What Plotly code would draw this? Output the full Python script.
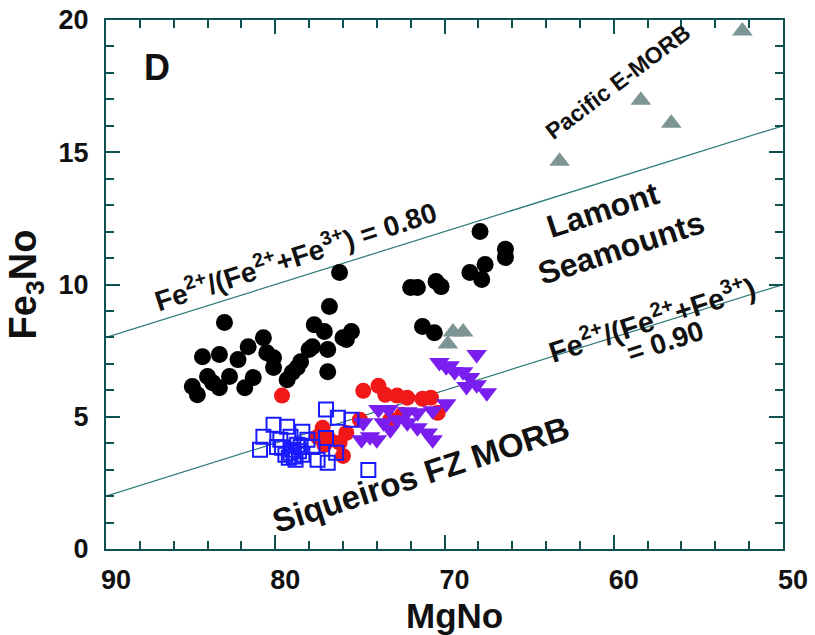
import plotly.graph_objects as go

# Lamont Seamounts (black circles)
lamont_mg = [83.0, 84.3, 83.3, 84.9, 84.6, 84.0, 83.7, 83.3, 82.7, 82.2, 81.6, 81.8, 81.3,
             80.7, 80.5, 80.1, 80.1, 79.3, 79.0, 78.7, 78.5, 78.0, 77.7, 77.1, 76.8, 76.9,
             76.9, 76.0, 75.5, 75.8, 76.2, 77.8,
             67.9, 66.4, 66.4, 67.6, 68.5, 67.8, 72.0, 71.6, 70.5, 70.2, 71.3, 70.6]
lamont_fe = [8.56, 7.27, 7.35, 6.14, 5.83, 6.52, 6.29, 6.10, 6.52, 7.16, 7.65, 6.10, 6.48,
             7.99, 7.42, 7.23, 6.86, 6.40, 6.67, 6.86, 7.08, 7.54, 8.48, 8.22, 9.17, 7.54,
             6.70, 7.99, 8.22, 7.92, 10.45, 7.65,
             12.0, 11.33, 11.02, 10.76, 10.45, 10.19, 9.89, 9.89, 10.11, 9.92, 8.41, 8.18]

# Siqueiros FZ MORB, red circles
siq_red_mg = [79.6, 77.2, 77.5, 76.2, 76.0, 75.8, 76.8, 74.8, 73.9, 73.5, 72.8, 72.2,
              71.3, 70.8, 70.4, 72.5, 73.2, 75.0, 77.1]
siq_red_fe = [5.80, 4.58, 4.24, 4.02, 3.52, 4.39, 4.13, 5.98, 6.17, 5.83, 5.80, 5.72,
              5.68, 5.72, 5.15, 5.08, 4.89, 4.89, 3.94]

# Siqueiros FZ MORB, purple inverted triangles
siq_tri_mg = [68.1, 70.3, 69.7, 68.9, 68.5, 68.1, 68.7, 67.5, 69.9, 70.7, 71.6, 72.2,
              73.9, 73.3, 72.8, 73.6, 73.2, 72.2, 71.6, 71.0, 70.7, 74.4, 74.9, 74.0,
              74.8, 69.4, 69.9]
siq_tri_fe = [7.35, 7.05, 6.93, 6.70, 6.48, 6.21, 6.14, 5.91, 5.49, 5.23, 5.15, 5.19,
              5.27, 5.27, 4.89, 4.77, 4.51, 4.77, 4.58, 4.39, 4.13, 4.24, 4.13, 4.13,
              4.77, 6.70, 6.89]

# Siqueiros FZ MORB, blue open squares
siq_sq_mg = [77.0, 76.3, 75.5, 80.1, 79.3, 78.4, 80.7, 80.9, 79.9, 79.1, 78.4, 77.5,
             76.9, 76.4, 77.0, 77.8, 74.5, 79.7, 79.4, 78.8, 78.5, 78.1, 79.1, 78.7,
             79.6, 79.0, 78.9, 78.6, 79.2]
siq_sq_fe = [5.27, 4.96, 4.89, 4.70, 4.62, 4.43, 4.24, 3.75, 3.86, 3.64, 3.56, 3.37,
             3.26, 3.64, 4.20, 3.86, 2.99, 4.13, 3.56, 3.37, 3.86, 4.13, 4.24, 3.94,
             3.83, 3.75, 3.50, 3.70, 3.45]

# Pacific E-MORB (grey triangles)
emorb_mg = [63.2, 58.4, 56.6, 52.4, 69.5, 68.9, 69.8]
emorb_fe = [14.66, 16.97, 16.10, 19.58, 8.2, 8.2, 7.75]

# Fe2+/(Fe2+ + Fe3+) reference lines
ref_mg = [90, 50]
ref080_fe = [8.0, 16.0]
ref090_fe = [2.0, 10.0]

TEXT = "#111111"
AXIS = "#0f5050"
LINE = "#2b7a78"
FONT = "Liberation Sans, Arial, sans-serif"
FE_RATIO = "Fe<sup>2+</sup>/(Fe<sup>2+</sup>+Fe<sup>3+</sup>)"

fig = go.Figure()

for yy in (ref080_fe, ref090_fe):
    fig.add_trace(go.Scatter(x=ref_mg, y=yy, mode="lines",
                             line=dict(color=LINE, width=1.2), hoverinfo="skip"))

fig.add_trace(go.Scatter(x=siq_red_mg, y=siq_red_fe, mode="markers",
                         marker=dict(symbol="circle", size=16, color="#f01818")))
fig.add_trace(go.Scatter(x=siq_tri_mg, y=siq_tri_fe, mode="markers",
                         marker=dict(symbol="triangle-down", size=18, color="#7a1ef0")))
fig.add_trace(go.Scatter(x=siq_sq_mg, y=siq_sq_fe, mode="markers",
                         marker=dict(symbol="square-open", size=14, color="#1a1aff",
                                     line=dict(width=2))))
fig.add_trace(go.Scatter(x=lamont_mg, y=lamont_fe, mode="markers",
                         marker=dict(symbol="circle", size=17, color="#000000")))
fig.add_trace(go.Scatter(x=emorb_mg, y=emorb_fe, mode="markers",
                         marker=dict(symbol="triangle-up", size=18, color="#7d9595")))

def label(x, y, text, size, angle):
    fig.add_annotation(x=x, y=y, text=text, showarrow=False, textangle=angle,
                       font=dict(family=FONT, size=size, color=TEXT, weight="bold"))

label(87.0, 18.2, "D", 36, 0)
label(59.76, 17.66, "Pacific E-MORB", 23, -37)
label(78.84, 11.12, FE_RATIO + " = 0.80", 28, -18)
label(60.64, 12.82, "Lamont", 32, -18)
label(59.58, 11.38, "Seamounts", 32, -18)
label(57.75, 8.73, FE_RATIO, 29, -18)
label(56.92, 7.83, "= 0.90", 28, -18)
label(71.39, 2.80, "Siqueiros FZ MORB", 33, -18)

# x-axis title placed below the tick labels
fig.add_annotation(x=0.515, y=-0.125, xref="paper", yref="paper", text="MgNo",
                   showarrow=False, yanchor="middle",
                   font=dict(family=FONT, size=35, color=TEXT, weight="bold"))

axis_common = dict(showline=True, linecolor=AXIS, linewidth=2, mirror="allticks",
                   ticks="inside", ticklen=14, tickwidth=2, tickcolor=AXIS,
                   showgrid=False, zeroline=False, automargin=False,
                   tickfont=dict(family=FONT, size=27, color=TEXT, weight="bold"))

fig.update_xaxes(range=[90, 50], tickvals=[90, 80, 70, 60, 50],
                 ticklabelstandoff=6, ticklabelshift=-10,
                 minor=dict(dtick=2, ticks="inside", ticklen=8, tickwidth=2, tickcolor=AXIS),
                 **axis_common)
fig.update_yaxes(range=[0, 20], tickvals=[0, 5, 10, 15, 20],
                 ticklabelstandoff=10,
                 minor=dict(dtick=1, ticks="inside", ticklen=8, tickwidth=2, tickcolor=AXIS),
                 title=dict(text="Fe<sub>3</sub>No", standoff=10,
                            font=dict(family=FONT, size=38, color=TEXT, weight="bold")),
                 **axis_common)

fig.update_layout(width=815, height=635, showlegend=False,
                  plot_bgcolor="white", paper_bgcolor="white",
                  margin=dict(l=106, r=32, t=20, b=86))

fig.write_html("out.html")
